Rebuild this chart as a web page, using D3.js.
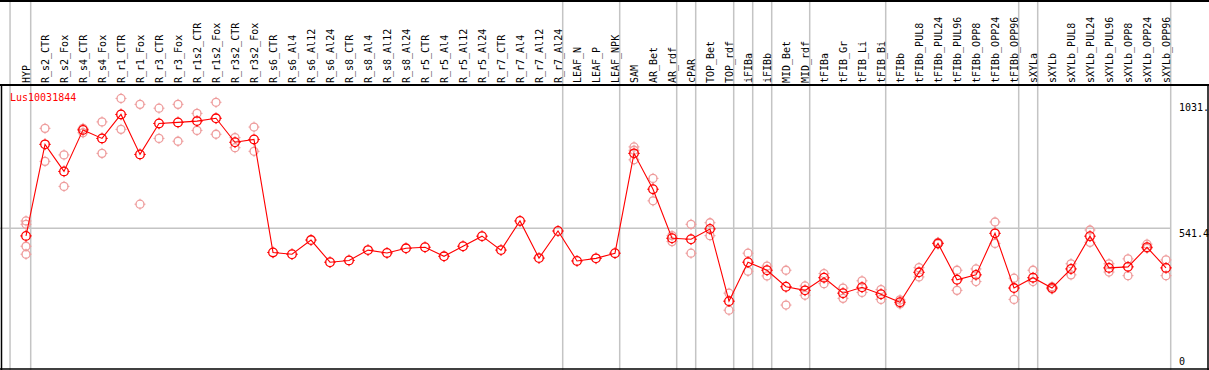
<!DOCTYPE html>
<html>
<head>
<meta charset="utf-8">
<script src="https://cdn.jsdelivr.net/npm/d3@7"></script>
<style>
  body { margin: 0; background: #fff; }
  text { font-family: "DejaVu Sans Mono", monospace; font-size: 10px; }
</style>
</head>
<body>
<div id="chart"></div>
<script>

// Chart data

const title = "Lus10031844";

const categories = [
  "HYP", "R_s2_CTR", "R_s2_Fox", "R_s4_CTR", "R_s4_Fox", "R_r1_CTR", "R_r1_Fox",
  "R_r3_CTR", "R_r3_Fox", "R_r1s2_CTR", "R_r1s2_Fox", "R_r3s2_CTR", "R_r3s2_Fox",
  "R_s6_CTR", "R_s6_Al4", "R_s6_Al12", "R_s6_Al24", "R_s8_CTR", "R_s8_Al4",
  "R_s8_Al12", "R_s8_Al24", "R_r5_CTR", "R_r5_Al4", "R_r5_Al12", "R_r5_Al24",
  "R_r7_CTR", "R_r7_Al4", "R_r7_Al12", "R_r7_Al24", "LEAF_N", "LEAF_P", "LEAF_NPK",
  "SAM", "AR_Bet", "AR_rdf", "cPAR", "TOP_Bet", "TOP_rdf", "iFIBa", "iFIBb",
  "MID_Bet", "MID_rdf", "tFIBa", "tFIB_Gr", "tFIB_Li", "tFIB_Bi", "tFIBb",
  "tFIBb_PUL8", "tFIBb_PUL24", "tFIBb_PUL96", "tFIBb_OPP8", "tFIBb_OPP24", "tFIBb_OPP96",
  "sXYLa", "sXYLb", "sXYLb_PUL8", "sXYLb_PUL24", "sXYLb_PUL96", "sXYLb_OPP8",
  "sXYLb_OPP24", "sXYLb_OPP96"
];

// mean value per sample
const means = [
  512, 867, 762, 923, 890, 983, 828, 948, 952, 957, 968, 875, 886,
  448, 441, 496, 410, 417, 457, 446, 464, 468, 433, 472, 511, 457, 570, 426, 531, 415, 425, 445,
  832, 693, 503, 499, 539, 259, 410, 379, 315, 301, 350, 290, 313, 286, 255,
  371, 483, 342, 361, 522, 310, 350, 310, 384, 511, 388, 392, 468, 388
];

// individual replicates per sample
const replicates = [
  [570, 557, 472, 441], [929, 801], [826, 704], [929, 912], [954, 832], [1045, 925],
  [1022, 635], [1007, 890], [1022, 879], [987, 921], [1030, 906], [893, 854], [934, 840],
  [], [], [], [], [], [], [], [], [], [], [], [], [], [], [], [], [], [], [],
  [857, 844, 807], [735, 648], [513, 490], [557, 445], [563, 513], [290, 224],
  [445, 375], [395, 357], [379, 244], [318, 282], [366, 327], [310, 270], [338, 293],
  [304, 266], [264, 248], [389, 353], [487, 481], [379, 301], [384, 335], [566, 483],
  [348, 266], [379, 335], [315, 306], [404, 361], [535, 487], [404, 372], [423, 358],
  [480, 464], [419, 358]
];

// index of last sample in each group (separator drawn after it)
const groupEnds = [0, 28, 31, 34, 35, 37, 38, 39, 41, 45, 52, 53, 60];

const tickValues = [1031, 541.4, 0];
const tickLabels = ["1031.", "541.4", "0"];


// Dimensions
const width = 1209;
const height = 370;
const headerBottom = 85;
const plotBottom = 368;

const svg = d3.select("#chart")
  .append("svg")
  .attr("width", width)
  .attr("height", height);

// Scales
const xScale = d3.scaleLinear()
  .domain([0, categories.length - 1])
  .range([26, 1166]);

const yScale = d3.scaleLinear()
  .domain([0, 1097])
  .range([plotBottom, headerBottom]);

const grey = "#c4c4c4";

/* Grid lines */

// left edge of the sample area
svg.append("line")
  .attr("x1", xScale(-0.84)).attr("x2", xScale(-0.84))
  .attr("y1", 0).attr("y2", height)
  .attr("stroke", grey).attr("stroke-width", 1.5);

svg.selectAll(".sep")
  .data(groupEnds)
  .enter()
  .append("line")
  .attr("class", "sep")
  .attr("x1", d => xScale(d) + 4.7)
  .attr("x2", d => xScale(d) + 4.7)
  .attr("y1", 0)
  .attr("y2", height)
  .attr("stroke", grey)
  .attr("stroke-width", 1.5);

// middle horizontal line
svg.append("line")
  .attr("x1", 0).attr("x2", xScale(60) + 4.7)
  .attr("y1", yScale(541.4)).attr("y2", yScale(541.4))
  .attr("stroke", grey).attr("stroke-width", 1.5);

/* Frame */
svg.append("line").attr("x1", 0).attr("x2", width).attr("y1", 1).attr("y2", 1)
  .attr("stroke", "#000").attr("stroke-width", 2);
svg.append("line").attr("x1", 0).attr("x2", width).attr("y1", headerBottom).attr("y2", headerBottom)
  .attr("stroke", "#000").attr("stroke-width", 2);
svg.append("line").attr("x1", 0).attr("x2", width).attr("y1", 369).attr("y2", 369)
  .attr("stroke", "#000").attr("stroke-width", 1.5);
svg.append("line").attr("x1", 1.5).attr("x2", 1.5).attr("y1", headerBottom).attr("y2", height)
  .attr("stroke", "#000").attr("stroke-width", 1.5);
svg.append("line").attr("x1", 1208).attr("x2", 1208).attr("y1", headerBottom).attr("y2", height)
  .attr("stroke", "#000").attr("stroke-width", 1.5);

/* Header labels */
svg.selectAll(".cat")
  .data(categories)
  .enter()
  .append("text")
  .attr("class", "cat")
  .attr("transform", (d, i) => `translate(${xScale(i) + 4},83) rotate(-90)`)
  .attr("fill", "#000")
  .text(d => d);

/* Right value labels */
svg.selectAll(".tick-label")
  .data(tickValues)
  .enter()
  .append("text")
  .attr("class", "tick-label")
  .attr("x", 1179)
  .attr("y", (d, i) => i < 2 ? yScale(d) + 9 : yScale(d) - 3)
  .attr("fill", "#000")
  .text((d, i) => tickLabels[i]);

/* Title */
svg.append("text")
  .attr("x", 10)
  .attr("y", 101)
  .attr("fill", "#ff0000")
  .text(title);

/* Markers */
function marker(g, color, r) {
  g.append("circle")
    .attr("r", r)
    .attr("fill", "none")
    .attr("stroke", color)
    .attr("stroke-width", 1.3);
  g.append("path")
    .attr("d", `M0,${-r - 1.5}V${-r + 0.5}M0,${r - 0.5}V${r + 1.5}M${-r - 1.5},0H${-r + 0.5}M${r - 0.5},0H${r + 1.5}`)
    .attr("stroke", color)
    .attr("stroke-width", 1);
}

// replicate points
const repData = [];
replicates.forEach((arr, i) => arr.forEach(v => repData.push({i: i, v: v})));

svg.selectAll(".rep")
  .data(repData)
  .enter()
  .append("g")
  .attr("class", "rep")
  .attr("transform", d => `translate(${xScale(d.i)},${yScale(d.v)})`)
  .each(function() { marker(d3.select(this), "#ee9c9c", 4); });

// mean line
const line = d3.line()
  .x((d, i) => xScale(i))
  .y(d => yScale(d));

svg.append("path")
  .datum(means)
  .attr("d", line)
  .attr("fill", "none")
  .attr("stroke", "#ff0000")
  .attr("stroke-width", 1.1);

// mean points
svg.selectAll(".mean")
  .data(means)
  .enter()
  .append("g")
  .attr("class", "mean")
  .attr("transform", (d, i) => `translate(${xScale(i)},${yScale(d)})`)
  .each(function() { marker(d3.select(this), "#ff0000", 4.3); });

</script>
</body>
</html>
